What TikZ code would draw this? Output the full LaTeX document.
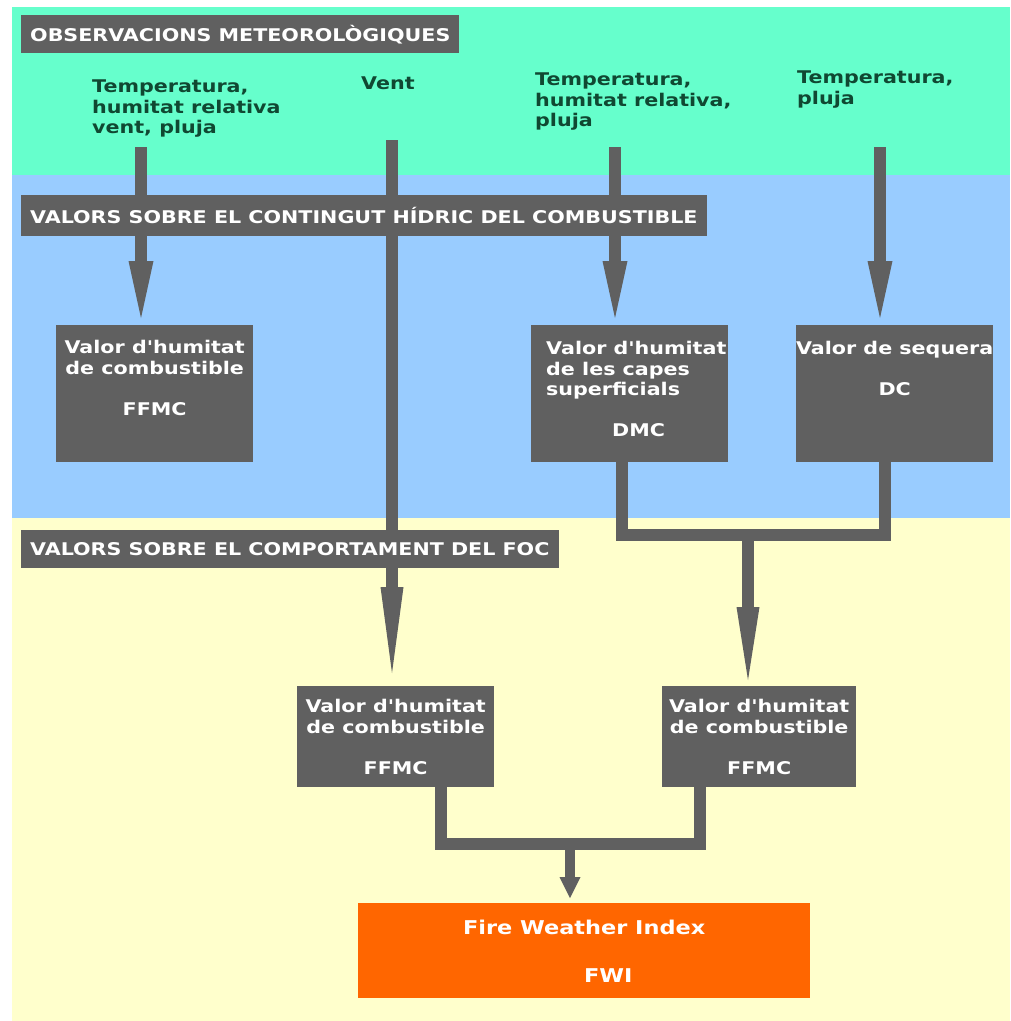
\documentclass[tikz,border=0pt]{standalone}
\usepackage{fontspec}
\newfontfamily\diagfont{DejaVu Sans}[FakeStretch=1.18]
\newcommand{\hdrfont}{\diagfont\bfseries\fontsize{17.5}{20.5}\selectfont}
\newcommand{\lblfont}{\diagfont\bfseries\fontsize{17.5}{20.5}\selectfont}
\newcommand{\fwifont}{\diagfont\bfseries\fontsize{19}{22}\selectfont}
\usetikzlibrary{
  arrows.meta,
  positioning,
  calc
}
\definecolor{obsgreen}{RGB}{102,255,204}
\definecolor{hidblue}{RGB}{153,204,255}
\definecolor{focyellow}{RGB}{255,255,204}
\definecolor{boxgray}{RGB}{96,96,96}
\definecolor{txtgreen}{RGB}{16,72,50}
\definecolor{fwiorange}{RGB}{255,102,0}

\begin{document}
\begin{tikzpicture}[x=1pt, y=-1pt,
  hdr/.style={fill=boxgray, text=white, anchor=north west, inner xsep=9pt,
              inner ysep=0pt, minimum height=38pt, font=\hdrfont},
  obs/.style={text=txtgreen, anchor=north west, align=left, inner sep=0pt,
              font=\lblfont},
  vbox/.style={fill=boxgray, anchor=north west, inner sep=0pt,
               minimum width=197pt, minimum height=137pt},
  vtxt/.style={text=white, inner sep=0pt, align=center, font=\lblfont},
  arr/.style={draw=boxgray, line width=12pt,
              -{Triangle[length=57pt, width=25pt, line width=0pt]}},
  link/.style={draw=boxgray, line width=12pt, line cap=rect, line join=miter}
]
\useasboundingbox (0,0) rectangle (1011,1021);
\fill[white] (0,0) rectangle (1011,1021);

% bands
\fill[obsgreen] (12,7) rectangle (1010,175);
\fill[hidblue] (12,175) rectangle (1010,518);
\fill[focyellow] (12,518) rectangle (1010,1021);

% observations
\node[obs] (obsA) at (92,80) {Temperatura,\\humitat relativa\\vent, pluja};
\node[obs] (obsV) at (361,77) {Vent};
\node[obs] (obsC) at (535,73) {Temperatura,\\humitat relativa,\\pluja};
\node[obs] (obsD) at (797,71) {Temperatura,\\pluja};

\coordinate (inA) at (141,147);
\coordinate (inV) at (392,140);
\coordinate (inC) at (615,147);
\coordinate (inD) at (880,147);

% moisture codes
\node[vbox] (ffmcA) at (56,325) {};
\node[vbox] (dmc) at (531,325) {};
\node[vbox] (dc) at (796,325) {};

\node[vtxt, below=15pt of ffmcA.north]
  {Valor d'humitat\\de combustible\\[20.5pt]FFMC};
\node[vtxt, align=left, below right=16pt and 15pt of dmc.north west]
  {Valor d'humitat\\de les capes\\superficials\\[20.5pt]\hspace*{66pt}DMC};
\node[vtxt, below=16pt of dc.north] {Valor de sequera\\[20.5pt]DC};

% fire behaviour
\node[vbox, minimum height=101pt] (ffmcB) at (297,686) {};
\node[vbox, minimum height=101pt, minimum width=194pt] (ffmcC) at (662,686) {};

\node[vtxt, below=13pt of ffmcB.north]
  {Valor d'humitat\\de combustible\\[20.5pt]FFMC};
\node[vtxt, below=13pt of ffmcC.north]
  {Valor d'humitat\\de combustible\\[20.5pt]FFMC};

\node[fill=fwiorange, anchor=north west, inner sep=0pt,
      minimum width=452pt, minimum height=95pt] (fwi) at (358,903) {};
\node[vtxt, font=\fwifont, below=17pt of fwi.north]
  {Fire Weather Index\\[26pt]\hspace*{48pt}FWI};

% arrows
\foreach \src/\dst in {inA/ffmcA, inC/dmc, inD/dc}
  \draw[arr, shorten >=7pt] (\src) -- (\src |- \dst.north);
\draw[arr, -{Triangle[length=86pt, width=23pt, line width=0pt]}, shorten >=13pt]
  (inV) -- (inV |- ffmcB.north);

\coordinate (joinA) at (748,535);
\draw[link] ([xshift=-8pt]dmc.south) |- (joinA) -| ([xshift=-10pt]dc.south);
\draw[arr, -{Triangle[length=73pt, width=23pt, line width=0pt]}, shorten >=6pt]
  (joinA) -- (joinA |- ffmcC.north);

\coordinate (joinB) at (570,844);
\draw[link] ([shift={(45pt,20pt)}]ffmcB.south) |- (joinB)
  -| ([shift={(-59pt,20pt)}]ffmcC.south);
\draw[arr, line width=10pt, -{Triangle[length=21pt, width=21pt, line width=0pt]},
  shorten >=5pt] (joinB) -- (joinB |- fwi.north);

% band titles, over the arrows
\node[hdr] (hObs) at (21,15) {OBSERVACIONS METEOROLÒGIQUES};
\node[hdr, minimum height=41pt] (hHid) at (21,195)
  {VALORS SOBRE EL CONTINGUT HÍDRIC DEL COMBUSTIBLE};
\node[hdr] (hFoc) at (21,530) {VALORS SOBRE EL COMPORTAMENT DEL FOC};

\end{tikzpicture}
\end{document}
